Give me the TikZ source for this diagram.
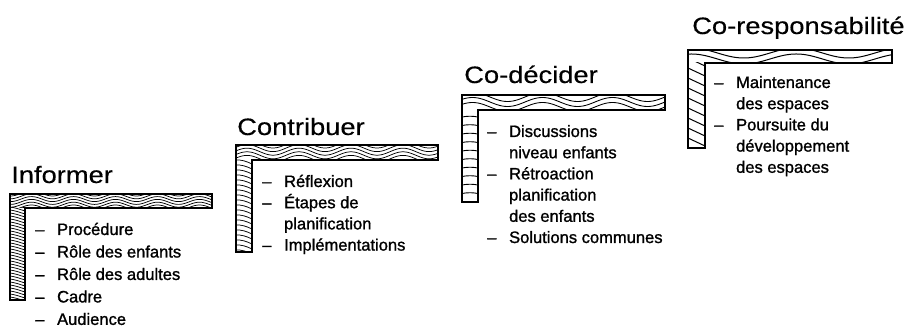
\documentclass[tikz,border=0pt]{standalone}
\usepackage{fontspec}
\setmainfont{Liberation Sans}
\newfontfamily\titlefont[FakeStretch=1.15,FakeBold=0.3]{Liberation Sans}
\newfontfamily\itemfont[FakeBold=1.2]{Liberation Sans}
\begin{document}
\begin{tikzpicture}[x=0.75pt,y=-0.75pt,
  title/.style={anchor=base west, inner sep=0pt, font=\titlefont\fontsize{17.8pt}{20pt}\selectfont},
  items/.style={anchor=base west, inner sep=0pt, font=\itemfont\fontsize{12.4pt}{15.9pt}\selectfont},
  barline/.style={line width=1.2pt, line join=miter},
  grain/.style={line width=0.55pt}]
\useasboundingbox (0,0) rectangle (906,327);

% ---------- Stage 1 : Informer ----------
\begin{scope}
  \clip (10,194) rectangle (212,208);
  \foreach \k in {0,...,5}
    \draw[grain] plot[domain=8:214,samples=120,smooth] (\x,{193.5+\k*2.8+2.5*sin(360*(\x/42))});
\end{scope}
\begin{scope}
  \clip (10,208) rectangle (25,300);
  \foreach \yy in {204,207,...,303}
    \draw[grain] (10,\yy) .. controls (15,\yy+0.5) and (20,\yy+2.5) .. (25,\yy+4);
\end{scope}
\draw[barline] (10,194) -- (212,194) -- (212,208) -- (25,208) -- (25,300) -- (10,300) -- cycle;
\node[title] (t1) at (11,183) {Informer};
\node[items] (l1) at (35,235) {\renewcommand\arraystretch{1.06}\begin{tabular}[t]{@{}l@{\hspace{9.5pt}}l@{}}
–&Procédure\\–&Rôle des enfants\\–&Rôle des adultes\\–&Cadre\\–&Audience\end{tabular}};

% ---------- Stage 2 : Contribuer ----------
\begin{scope}
  \clip (236,145) rectangle (438,160);
  \foreach \k in {0,...,4}
    \draw[grain] plot[domain=234:440,samples=120,smooth] (\x,{144.5+\k*3.6+3.5*sin(360*(\x/52))});
\end{scope}
\begin{scope}
  \clip (236,160) rectangle (252,252);
  \foreach \yy in {155,160,...,255}
    \draw[grain] (236,\yy) .. controls (241,\yy-0.5) and (247,\yy+1.5) .. (252,\yy+4);
\end{scope}
\draw[barline] (236,145) -- (438,145) -- (438,160) -- (252,160) -- (252,252) -- (236,252) -- cycle;
\node[title] (t2) at (237,135) {Contribuer};
\node[items] (l2) at (262,187) {\begin{tabular}[t]{@{}l@{\hspace{9.5pt}}l@{}}
–&Réflexion\\–&Étapes de\\&planification\\–&Implémentations\end{tabular}};

% ---------- Stage 3 : Co-décider ----------
\begin{scope}
  \clip (462,95) rectangle (665,110);
  \foreach \k in {0,...,2}
    \draw[grain,line width=0.65pt] plot[domain=460:667,samples=140,smooth] (\x,{97+\k*5+4.5*sin(360*(\x/70))});
\end{scope}
\begin{scope}
  \clip (462,110) rectangle (478,202);
  \foreach \yy in {117,125.5,...,200}
    \draw[grain,line width=0.65pt] (462,\yy) .. controls (467,\yy-1) and (473,\yy-1) .. (478,\yy);
\end{scope}
\draw[barline] (462,95) -- (665,95) -- (665,110) -- (478,110) -- (478,202) -- (462,202) -- cycle;
\node[title] (t3) at (464,83) {Co-décider};
\node[items] (l3) at (487,137) {\begin{tabular}[t]{@{}l@{\hspace{9.5pt}}l@{}}
–&Discussions\\&niveau enfants\\–&Rétroaction\\&planification\\&des enfants\\–&Solutions communes\end{tabular}};

% ---------- Stage 4 : Co-responsabilité ----------
\begin{scope}
  \clip (688,50) rectangle (892,63);
  \foreach \k in {0,1}
    \draw[grain,line width=0.75pt] plot[domain=686:894,samples=160,smooth] (\x,{53+\k*6+5*sin(360*(\x/105)+60)});
\end{scope}
\begin{scope}
  \clip (688,63) rectangle (705,148);
  \foreach \yy in {58,68,...,150}
    \draw[grain,line width=0.75pt] (688,\yy) -- (705,\yy+8);
\end{scope}
\draw[barline] (688,50) -- (892,50) -- (892,63) -- (705,63) -- (705,148) -- (688,148) -- cycle;
\node[title] (t4) at (692,34) {Co-responsabilité};
\node[items] (l4) at (714,88) {\begin{tabular}[t]{@{}l@{\hspace{9.5pt}}l@{}}
–&Maintenance\\&des espaces\\–&Poursuite du\\&développement\\&des espaces\end{tabular}};
\end{tikzpicture}
\end{document}
